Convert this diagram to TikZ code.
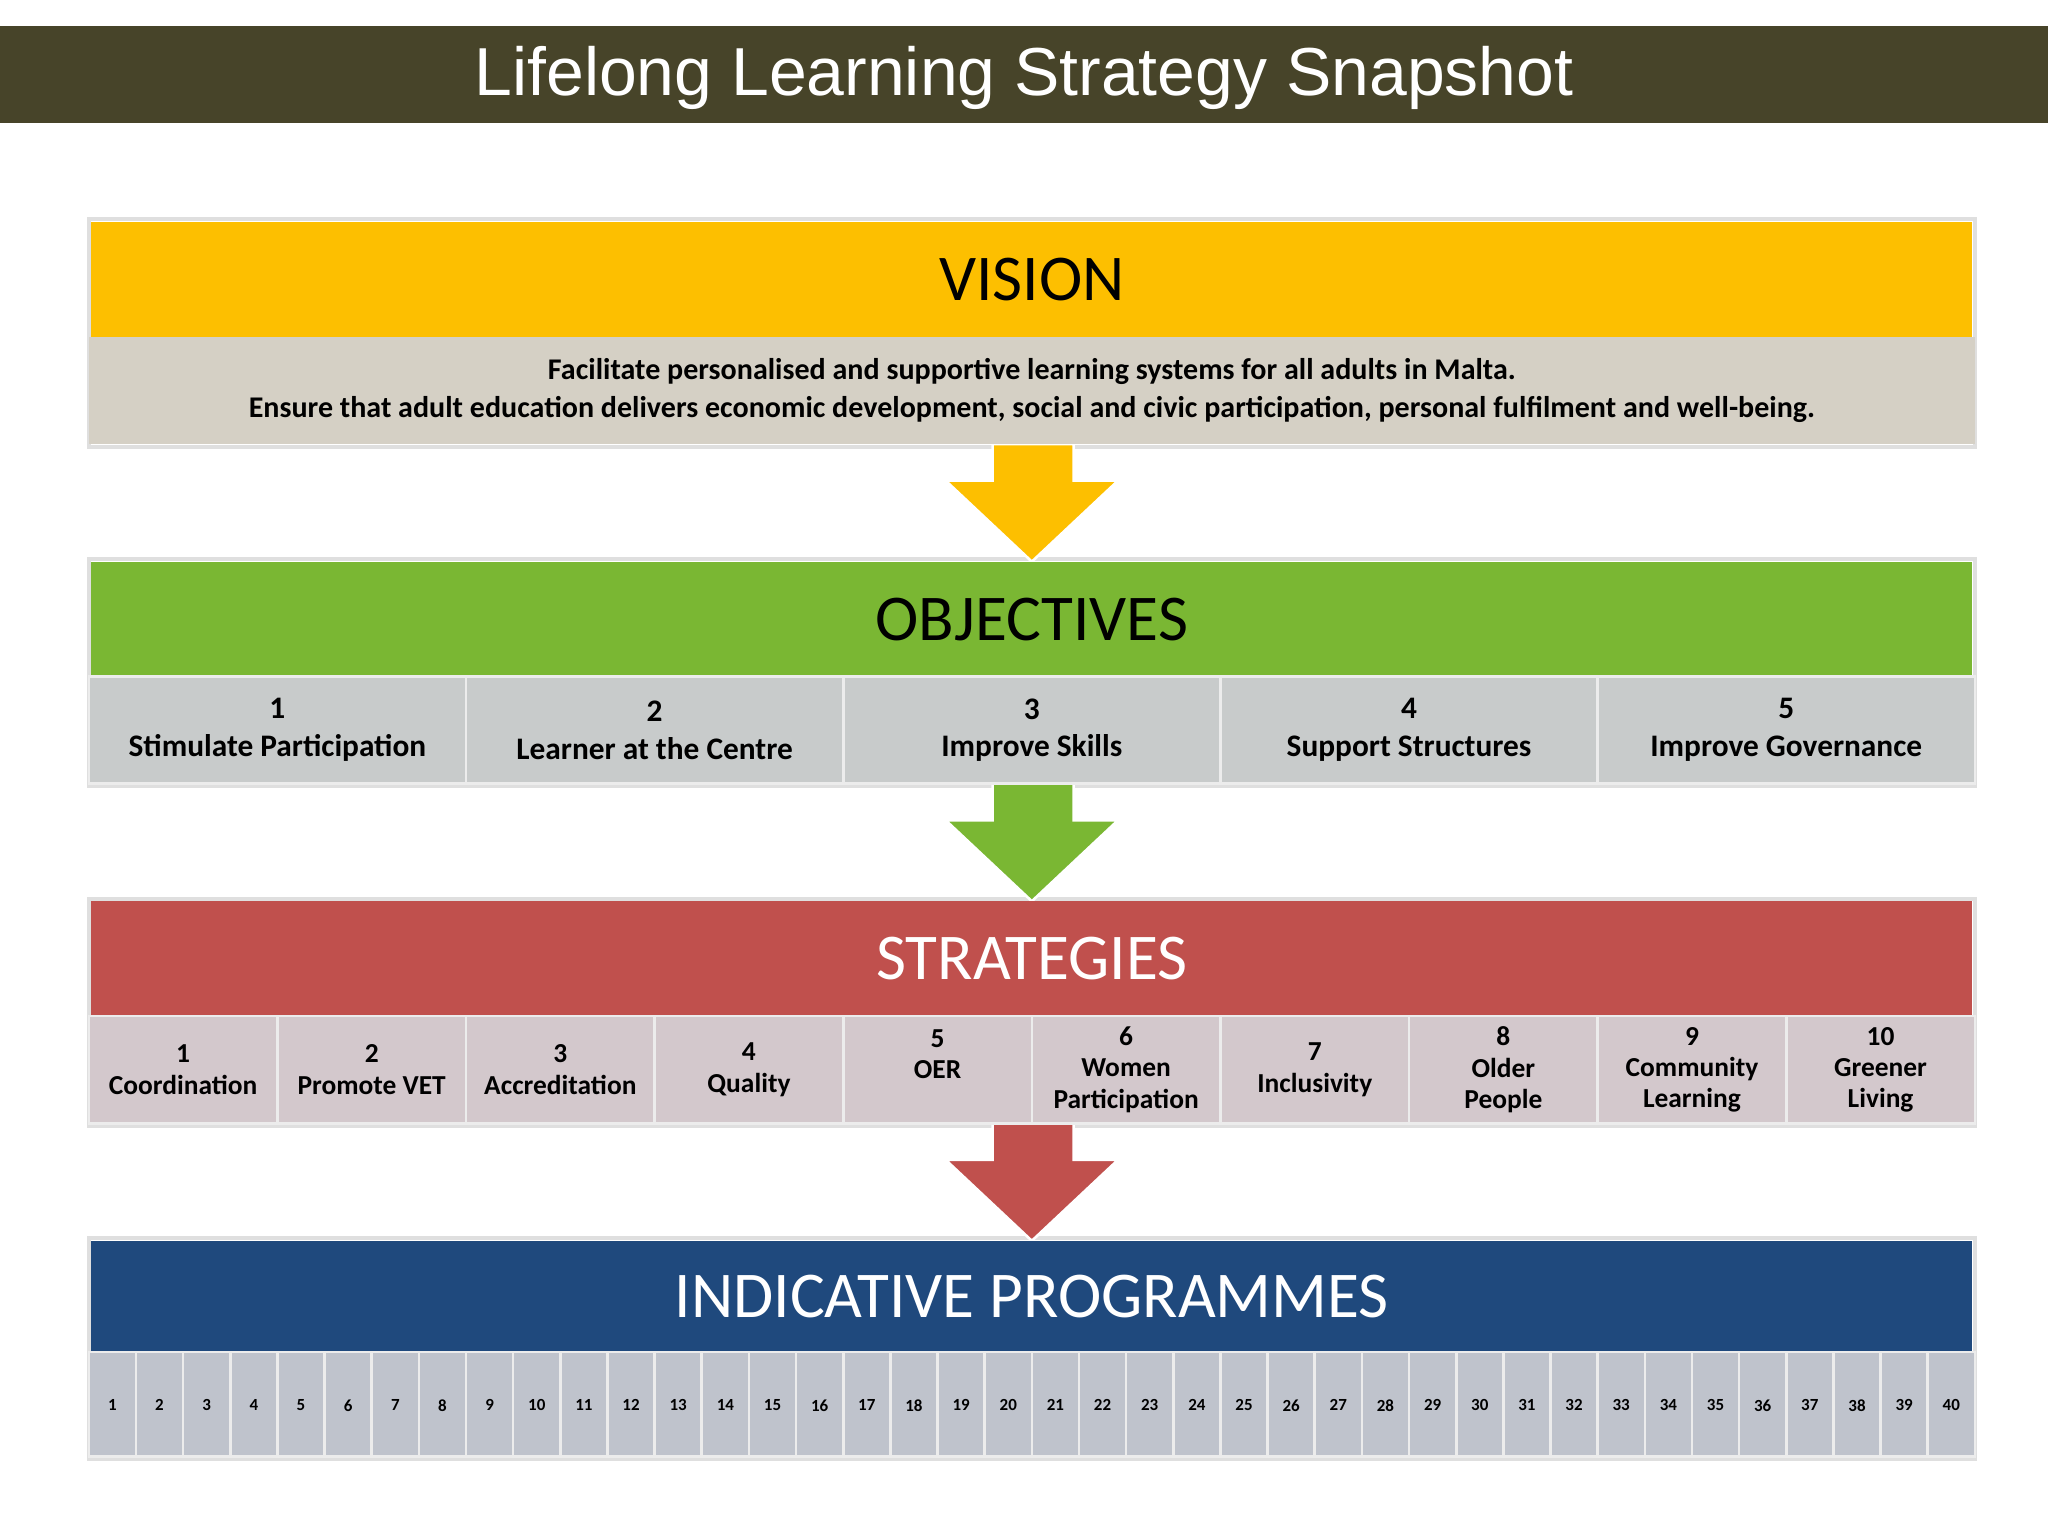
\documentclass[tikz,border=0pt]{standalone}
\usepackage{fontspec}
\setmainfont{Carlito}
\newfontfamily\titlefont{Liberation Sans}
\definecolor{olive}{HTML}{474429}
\definecolor{vyel}{HTML}{FDBF00}
\definecolor{vgray}{HTML}{D5D0C5}
\definecolor{ogreen}{HTML}{7AB733}
\definecolor{ogray}{HTML}{C8CBCB}
\definecolor{sred}{HTML}{C0504D}
\definecolor{sgray}{HTML}{D3C8CC}
\definecolor{iblue}{HTML}{1F497D}
\definecolor{igray}{HTML}{BFC3CC}
\tikzset{x=1pt,y=-1pt,
 cell/.style={draw=white!85!gray,line width=2pt},
 celltxt/.style={font=\bfseries\fontsize{22}{26}\selectfont,align=center,text=black},
 head/.style={font=\fontsize{50}{56}\selectfont},
 arr/.style={draw=white,line width=2pt}}
\begin{document}
\begin{tikzpicture}
\useasboundingbox[fill=white] (0,0) rectangle (1568,1176);
\fill[olive] (0,20) rectangle (1568,94);
\node[text=white,font=\titlefont\fontsize{52}{56}\selectfont] (title) at (784,60) {Lifelong Learning Strategy Snapshot};
% frames
\foreach \t/\b in {170/340,430/600,690/860,950/1115}{\draw[gray!25,line width=3pt] (68,\t-2) rectangle (1512,\b+2);}
% arrows
\foreach \y/\c in {340/vyel,600/ogreen,860/sred}{
 \filldraw[fill=\c,arr] (760,\y) -- (822,\y) -- (822,\y+28) -- (856,\y+28) -- (790,\y+90) -- (724,\y+28) -- (760,\y+28) -- cycle;}
% vision
\fill[vyel] (70,170) rectangle (1510,258);
\node[head] (vision) at (790,214) {VISION};
\fill[vgray] (68,258) rectangle (1512,340);
\node[celltxt,font=\bfseries\fontsize{23}{29}\selectfont] (vtext) at (790,299) {Facilitate personalised and supportive learning systems for all adults in Malta.\\Ensure that adult education delivers economic development, social and civic participation, personal fulfilment and well-being.};
% objectives
\fill[ogreen] (70,430) rectangle (1510,518);
\node[head] (obj) at (790,474) {OBJECTIVES};
\foreach \n/\t [count=\i from 0] in {1/Stimulate Participation,2/Learner at the Centre,3/Improve Skills,4/Support Structures,5/Improve Governance}{
 \filldraw[fill=ogray,cell] (68+\i*288.8,518) rectangle (68+\i*288.8+288.8,600);
 \node[celltxt,font=\bfseries\fontsize{24}{29}\selectfont] (o\n) at (68+\i*288.8+144.4,559) {\n\\\t};}
% strategies
\fill[sred] (70,690) rectangle (1510,778);
\node[head,text=white] (str) at (790,734) {STRATEGIES};
\foreach \n/\t/\yy [count=\i from 0] in {1/Coordination/819,2/Promote VET/819,3/Accreditation/819,4/Quality/819,5/OER/807,6/Women\\Participation/819,7/Inclusivity/819,8/Older\\People/819,9/Community\\Learning/819,10/Greener\\Living/819}{
 \filldraw[fill=sgray,cell] (68+\i*144.4,778) rectangle (68+\i*144.4+144.4,860);
 \node[celltxt,font=\bfseries\fontsize{21}{24}\selectfont] (s\n) at (68+\i*144.4+72.2,\yy) {\n\\\t};}
% programmes
\fill[iblue] (70,950) rectangle (1510,1035);
\node[head,text=white] (ind) at (790,993) {INDICATIVE PROGRAMMES};
\foreach \i in {1,...,40}{
 \filldraw[fill=igray,cell] (68+\i*36.1-36.1,1035) rectangle (68+\i*36.1,1115);
 \node[font=\bfseries\fontsize{13}{15}\selectfont] (p\i) at (68+\i*36.1-18.05,1076) {\i};}
\end{tikzpicture}
\end{document}
